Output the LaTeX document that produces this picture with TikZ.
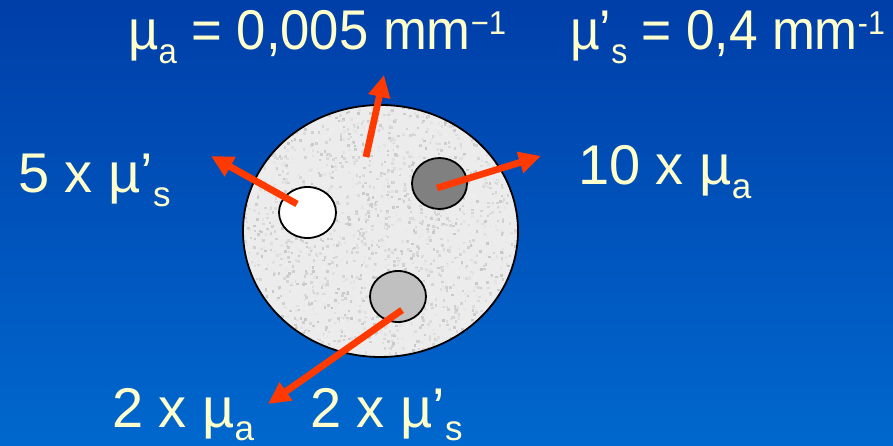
\documentclass[tikz,border=0pt]{standalone}
\usepackage{fontspec}
\setmainfont{Liberation Sans}
\usetikzlibrary{arrows.meta,shapes.geometric}
\definecolor{bgtop}{RGB}{0,62,168}
\definecolor{bgbot}{RGB}{0,104,206}
\definecolor{txt}{RGB}{255,255,204}
\definecolor{arr}{RGB}{255,58,0}
\definecolor{tissue}{RGB}{236,236,236}
\definecolor{darkinc}{RGB}{128,128,128}
\definecolor{lightinc}{RGB}{192,192,192}
\newcommand{\Sb}[1]{\raisebox{-13.5pt}{\fontsize{35}{35}\selectfont #1}}
\newcommand{\Sp}[1]{\raisebox{15pt}{\fontsize{33}{33}\selectfont #1}}
\newcommand{\Nar}[2][0.92]{\scalebox{#1}[1]{#2}}
\tikzset{
  lbl/.style={text=txt, font=\fontsize{56}{60}\selectfont, inner sep=0pt, anchor=base west},
  ray/.style={draw=arr, line width=6.8pt, -{Triangle[length=22pt,width=21pt]}},
  incl/.style={draw=black, line width=1.8pt},
}
\begin{document}
\begin{tikzpicture}[x=1pt,y=-1pt]
\shade[top color=bgtop, bottom color=bgbot] (0,0) rectangle (893,446);
\useasboundingbox (0,0) rectangle (893,446);
% tissue
\fill[tissue] (380.5,231) ellipse [x radius=137.5, y radius=126];
\begin{scope}
  \clip (380.5,231) ellipse [x radius=137.5, y radius=126];
  \pgfmathsetseed{7}
  \foreach \i in {1,...,2200} {
    \pgfmathsetmacro\px{243+275*rnd}
    \pgfmathsetmacro\py{105+252*rnd}
    \pgfmathsetmacro\g{6+16*rnd}
    \fill[black!\g] (\px,\py) rectangle ++(2.6,2.6);
  }
\end{scope}
\node[draw=black, line width=1.8pt, ellipse, minimum width=275pt, minimum height=252pt, inner sep=0pt] (tis) at (380.5,231) {};
% inclusions
\filldraw[fill=white, incl] (307.5,212.5) ellipse [x radius=28.5, y radius=25.5];
\filldraw[fill=darkinc, incl] (439.5,183.5) ellipse [x radius=27.5, y radius=25.5];
\filldraw[fill=lightinc, incl] (398,296.5) ellipse [x radius=28, y radius=25.5];
\coordinate (wsrc) at (297,204);
\coordinate (dsrc) at (437,188);
\coordinate (lsrc) at (402,310);
\coordinate (tsrc) at (366,157);
\coordinate (wtip) at (211,156);
\coordinate (dtip) at (541,156);
\coordinate (ltip) at (268,404);
\coordinate (ttip) at (384,75);
% arrows
\draw[ray] (tsrc) -- (ttip);
\draw[ray] (wsrc) -- (wtip);
\draw[ray] (dsrc) -- (dtip);
\draw[ray] (lsrc) -- (ltip);
% labels
\node[lbl] (mua) at (128,50) {\Nar[0.94]{µ\Sb{a} = 0,005 mm\Sp{−1}}};
\node[lbl] (mus) at (570,50) {\Nar{µ’\Sb{s} = 0,4 mm\Sp{-1}}};
\node[lbl] (five) at (18,193) {5 x µ’\Sb{s}};
\node[lbl] (ten) at (578,185) {10 x µ\Sb{a}};
\node[lbl] (twoa) at (112,427) {2 x µ\Sb{a}};
\node[lbl] (twos) at (310,427) {2 x µ’\Sb{s}};
\end{tikzpicture}
\end{document}
